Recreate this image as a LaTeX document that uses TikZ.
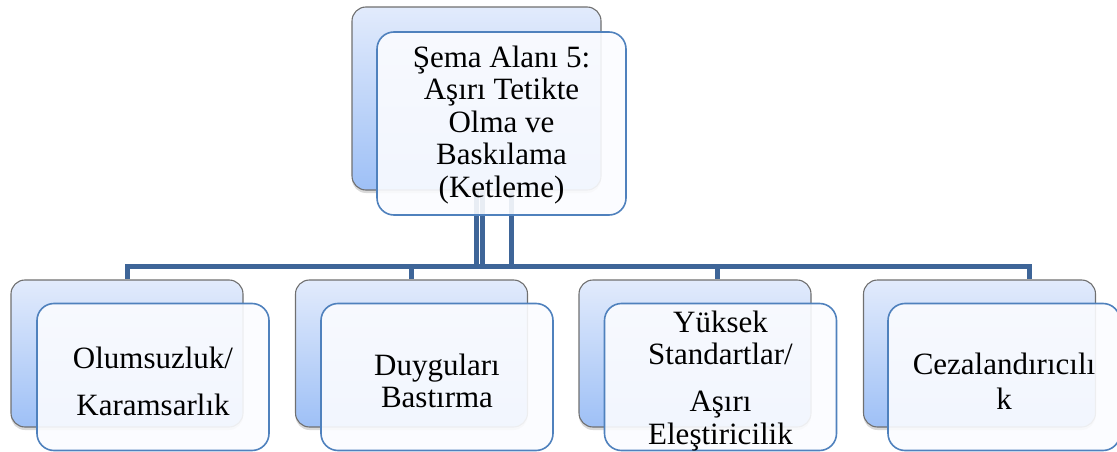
\documentclass[tikz,border=0pt]{standalone}
\usepackage{fontspec}
\setmainfont{Liberation Serif}
\usetikzlibrary{shadows}

\definecolor{linkblue}{RGB}{62,101,152}
\definecolor{backtop}{RGB}{226,235,252}
\definecolor{backbot}{RGB}{158,192,246}
\definecolor{backedge}{RGB}{112,112,112}
\definecolor{frontedge}{RGB}{79,129,189}
\definecolor{frontfill}{RGB}{251,252,255}

\pgfdeclarelayer{links}
\pgfsetlayers{links,main}

\begin{document}
\begin{tikzpicture}[x=1pt,y=-1pt,
  backbox/.style={rectangle, rounded corners=14pt, draw=backedge, line width=1.1pt,
    top color=backtop, bottom color=backbot, inner sep=0pt,
    drop shadow={shadow xshift=0pt, shadow yshift=-3pt, opacity=0.3}},
  frontbox/.style={rectangle, rounded corners=17pt, draw=frontedge, line width=1.6pt,
    fill=frontfill, fill opacity=0.9, inner sep=0pt},
  boxtext/.style={align=center, font=\fontsize{31}{32.5}\selectfont, inner sep=0pt, text=black},
  topsize/.style={minimum width=249pt, minimum height=183pt},
  childsize/.style={minimum width=232pt, minimum height=147pt},
  link/.style={draw=linkblue, line width=5pt}]

\useasboundingbox (0,0) rectangle (1117,452);

% parent
\node[backbox, topsize] (topback) at (476.5,98.5) {};
\node[frontbox, topsize] (topfront) at (501.5,123.5) {};
\node[boxtext] (toptext) at (501.5,125) {Şema Alanı 5:\\Aşırı Tetikte\\Olma ve\\Baskılama\\(Ketleme)};

% children: back cards
\node[backbox, childsize] (c1back) at (127,353.5) {};
\node[backbox, childsize] (c2back) at (411.5,353.5) {};
\node[backbox, childsize] (c3back) at (695,353.5) {};
\node[backbox, childsize] (c4back) at (979.5,353.5) {};

% children: front cards
\node[frontbox, childsize] (c1front) at (153,377) {};
\node[frontbox, childsize] (c2front) at (437,377) {};
\node[frontbox, childsize] (c3front) at (720.5,377) {};
\node[frontbox, childsize] (c4front) at (1004,377) {};

% children: labels
\node[boxtext] (c1text) at (153,381) {Olumsuzluk/\\[14.5pt]Karamsarlık};
\node[boxtext] (c2text) at (437,381) {Duyguları\\Bastırma};
\node[boxtext] (c3text) at (720.5,381) {Yüksek\\Standartlar/\\[14.5pt]Aşırı\\Eleştiricilik};
\node[boxtext] (c4text) at (1004,381) {Cezalandırıcılı\\[2.5pt]k};

% connectors behind the cards
\begin{pgfonlayer}{links}
  \draw[link] ([xshift=6pt]topback.south) -- ++(0,76) -| (c1back.north);
  \draw[link] ([xshift=34.5pt]topback.south) -- ++(0,76) -| (c2back.north);
  \draw[link] (topback.south) -- ++(0,76) -| ([xshift=22pt]c3back.north);
  \draw[link] ([xshift=34.5pt]topback.south) -- ++(0,76) -| ([xshift=49.5pt]c4back.north);
\end{pgfonlayer}
\end{tikzpicture}
\end{document}
